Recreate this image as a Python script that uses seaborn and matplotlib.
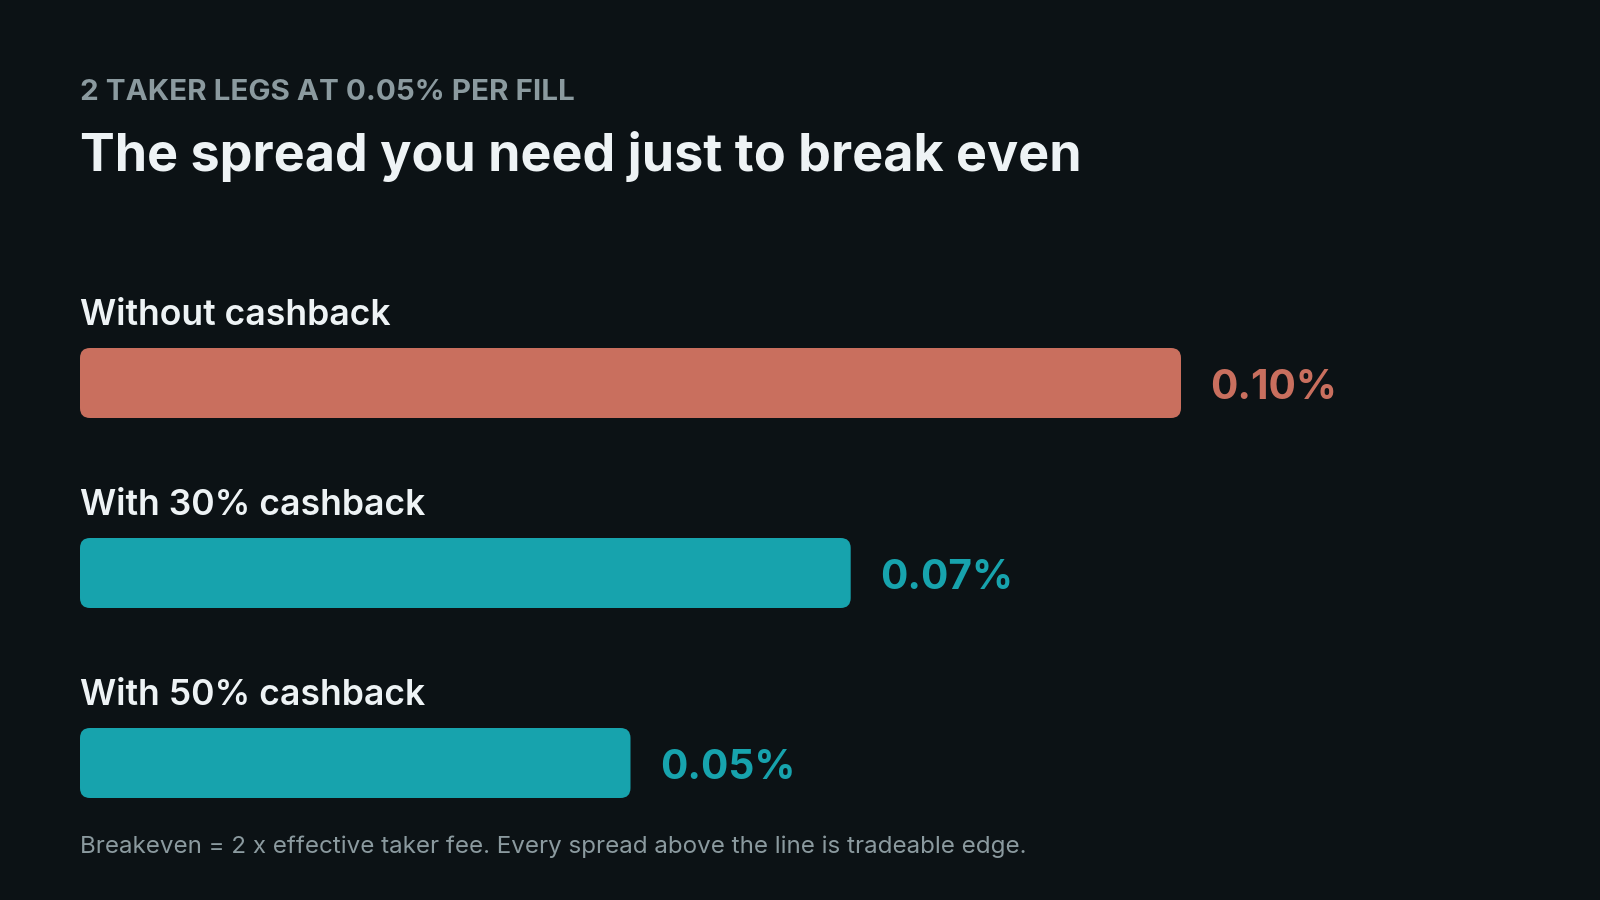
import matplotlib
matplotlib.use("Agg")
import matplotlib.pyplot as plt
import seaborn as sns
import pandas as pd
from matplotlib.patches import FancyBboxPatch

categories = ["Without cashback", "With 30% cashback", "With 50% cashback"]
values = [0.10, 0.07, 0.05]
value_labels = ["0.10%", "0.07%", "0.05%"]
colors = ["#c96f5e", "#17a3ad", "#17a3ad"]

eyebrow = "2 TAKER LEGS AT 0.05% PER FILL"
title = "The spread you need just to break even"
footnote = "Breakeven = 2 x effective taker fee. Every spread above the line is tradeable edge."

BG = "#0c1215"
sns.set_theme(style="white")
plt.rcParams["font.family"] = ["Inter", "DejaVu Sans"]

fig = plt.figure(figsize=(16, 9), dpi=100)
fig.patch.set_facecolor(BG)

W, H = 1600, 900
left_px, right_px = 80, 1520
top_px, bot_px = 288, 858
ax = fig.add_axes([left_px / W, 1 - bot_px / H, (right_px - left_px) / W, (bot_px - top_px) / H])
ax.set_facecolor(BG)

df = pd.DataFrame({"cat": categories, "val": values})
bar_h = 70 / 190
sns.barplot(data=df, y="cat", x="val", hue="cat", palette=colors, orient="h",
            width=bar_h, ax=ax, legend=False, saturation=1)

px_per_unit = 11010
ax.set_xlim(0, (right_px - left_px) / px_per_unit)
ax.set_ylim(2.5, -0.5)
ax.axis("off")

# Replace bars with rounded boxes
for patch, col in zip(list(ax.patches), colors):
    x0, y0 = patch.get_x(), patch.get_y()
    w, h = patch.get_width(), patch.get_height()
    patch.set_visible(False)
    fb = FancyBboxPatch((x0, y0), w, h, boxstyle="round,pad=0",
                        facecolor=col, edgecolor="none")
    fb.set_boxstyle("round", pad=0, rounding_size=10 / px_per_unit)
    fb.set_mutation_aspect(px_per_unit / 190)
    ax.add_patch(fb)

for i, (cat, v, lab, col) in enumerate(zip(categories, values, value_labels, colors)):
    ax.text(0, i - bar_h / 2 - 23 / 190, cat, ha="left", va="baseline",
            fontsize=25.6, fontweight="semibold", color="#eef3f5")
    ax.annotate(lab, xy=(v, i), xytext=(21, -3.5), textcoords="offset points",
                ha="left", va="center", fontsize=29.2, fontweight="bold", color=col)

fig.text(left_px / W, 1 - 100 / H, eyebrow, ha="left", va="baseline",
         fontsize=21.3, fontweight="bold", color="#8b9a9f")
fig.text(left_px / W, 1 - 171 / H, title, ha="left", va="baseline",
         fontsize=37.5, fontweight="bold", color="#eef3f5")
fig.text(left_px / W, 1 - 853 / H, footnote, ha="left", va="baseline",
         fontsize=17.4, color="#8b9a9f")

fig.savefig("out.png", dpi=100, facecolor=BG)
